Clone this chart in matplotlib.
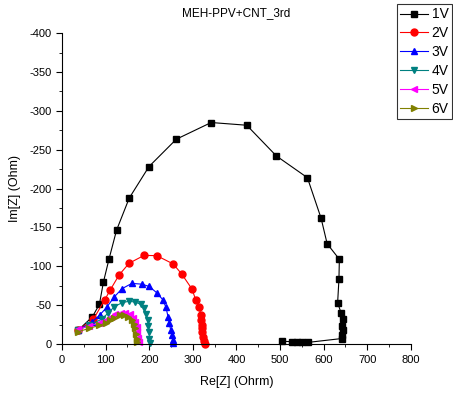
import matplotlib
matplotlib.use("Agg")
import matplotlib.pyplot as plt
from matplotlib.ticker import MultipleLocator

# === Data (Re, Im) ===
series_labels = ["1V", "2V", "3V", "4V", "5V", "6V"]

re_1v = [37.5, 69.5, 85.6, 95, 108, 125, 154, 199.5, 262, 342, 423.6, 491.5, 562.7,
         594, 608, 636, 635, 632, 640, 644, 643, 644, 642, 641,
         563, 550, 538, 527, 504]
im_1v = [-18, -35, -51, -80, -110, -146.5, -187.7, -228.4, -263.5, -285, -281.5, -242, -214,
         -162, -129, -109, -83, -53, -40, -32, -23, -18, -11.5, -7,
         -2, -2, -2, -3, -3.5]

re_2v = [37.5, 72, 98, 111, 131, 154, 188, 217, 255, 274.5, 298, 306.7, 315, 318,
         319, 320, 321, 322, 324, 325.7, 327]
im_2v = [-18, -32, -57, -70, -89, -104, -114, -113.7, -103, -90, -70.7, -56.6, -47, -37,
         -31, -25, -20, -15, -9.4, -4.3, -0.5]

re_3v = [37.5, 68, 86, 102, 119, 137, 160, 183, 200, 217, 231, 238.5, 243, 246, 249, 251.5, 254, 255]
im_3v = [-18, -28, -37, -47, -60, -71, -78, -77, -74, -66, -57, -47, -35, -27, -18, -12, -5, -1]

re_4v = [37.5, 62, 91, 106, 120, 137, 153, 168, 180, 188, 193, 196, 198, 199.5, 200.5, 201]
im_4v = [-18, -24, -32, -40, -48, -53, -55, -54, -51, -46, -39, -31, -23, -15, -7, -1]

re_5v = [37.5, 62, 85, 100, 112, 122, 135, 145, 155, 162, 167, 171, 173, 175, 176]
im_5v = [-19, -23, -27, -31, -35, -38, -40, -40, -38, -34, -28, -22, -15, -8, -2]

re_6v = [37.5, 62, 85, 100, 110, 120, 133, 143, 152, 160, 164, 168, 170, 171, 171]
im_6v = [-16, -20, -24, -27, -31, -34, -37, -37, -35, -31, -26, -20, -13, -7, -2]

x_data = [re_1v, re_2v, re_3v, re_4v, re_5v, re_6v]
y_data = [im_1v, im_2v, im_3v, im_4v, im_5v, im_6v]

# === Style ===
plt.rcParams.update({
    'font.family': ['Liberation Sans', 'DejaVu Sans'],
    'font.size': 8,
    'axes.unicode_minus': False,
    'axes.linewidth': 0.8,
    'axes.spines.top': False,
    'axes.spines.right': False,
    'xtick.major.size': 4,
    'ytick.major.size': 4,
    'xtick.minor.size': 2.5,
    'ytick.minor.size': 2.5,
})

colors = ['black', 'red', 'blue', '#008080', 'magenta', '#808000']
markers = ['s', 'o', '^', 'v', '<', '>']

fig = plt.figure(figsize=(4.53, 3.97), dpi=100)
ax = fig.add_axes([0.137, 0.1335, 0.77, 0.783])

for i in range(len(series_labels)):
    ax.plot(x_data[i], y_data[i], color=colors[i], marker=markers[i],
            markersize=5, linewidth=0.8, label=series_labels[i], clip_on=False)

ax.set_xlim(0, 800)
ax.set_ylim(0, -400)
ax.xaxis.set_major_locator(MultipleLocator(100))
ax.xaxis.set_minor_locator(MultipleLocator(50))
ax.yaxis.set_major_locator(MultipleLocator(50))
ax.yaxis.set_minor_locator(MultipleLocator(25))
ax.tick_params(which='both', direction='out')
ax.tick_params(axis='x', pad=4)

ax.set_xlabel("Re[Z] (Ohrm)", fontsize=9, labelpad=8)
ax.set_ylabel("Im[Z] (Ohm)", fontsize=9, labelpad=6)
ax.set_title("MEH-PPV+CNT_3rd", fontsize=8.5, pad=12)

# legend sits in the top-right corner, partly outside the axes
leg = fig.legend(loc='upper left', bbox_to_anchor=(0.876, 0.99), fontsize=10,
                 frameon=True, fancybox=False, edgecolor='black',
                 handlelength=2.0, borderpad=0.25, labelspacing=0.35,
                 handletextpad=0.25, borderaxespad=0)
leg.get_frame().set_linewidth(0.8)

fig.savefig("out.png", dpi=100)
